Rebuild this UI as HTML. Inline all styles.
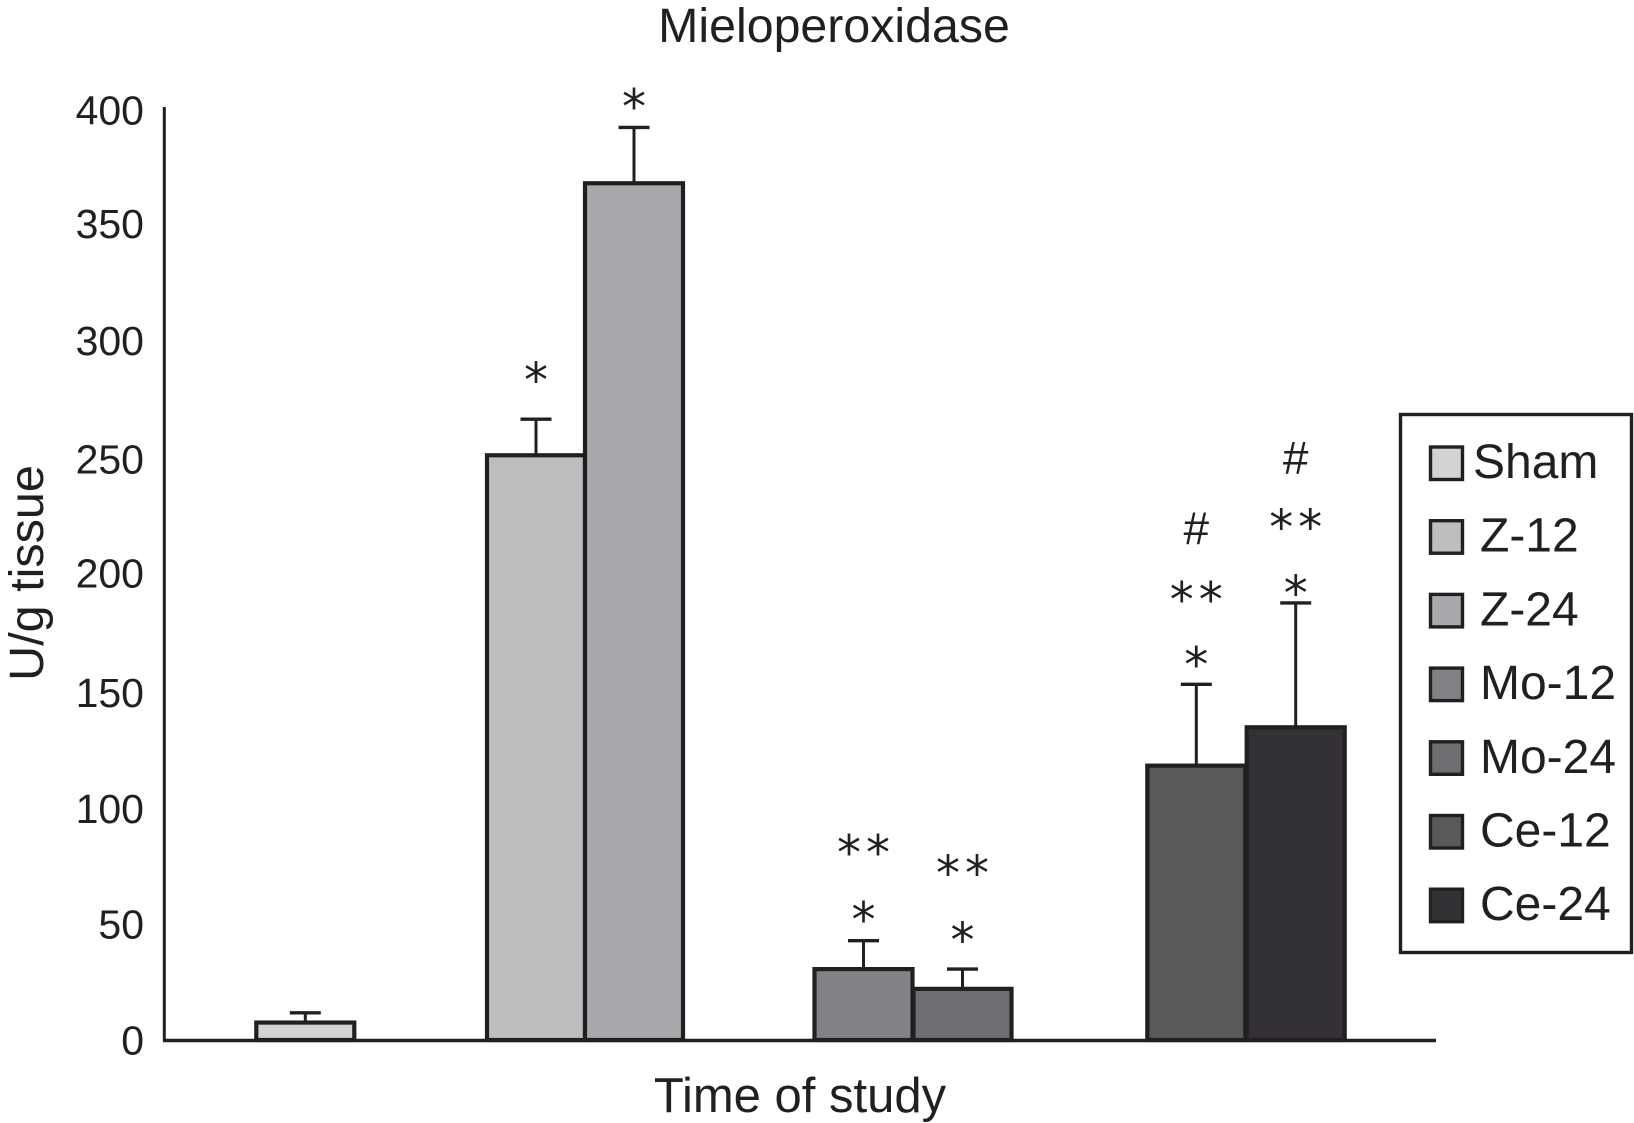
<!DOCTYPE html>
<html lang="en">
<head>
<meta charset="utf-8">
<title>Mieloperoxidase</title>
<style>
  html, body { margin: 0; padding: 0; background: #fff; }
  svg { display: block; }
  text { font-family: "Liberation Sans", Arial, sans-serif; fill: #231f20; }
  .mark { font-family: "DejaVu Sans", "Liberation Serif", serif; }
</style>
</head>
<body>
<svg id="chart" width="1634" height="1123" viewBox="0 0 1634 1123" xmlns="http://www.w3.org/2000/svg">
  <rect x="0" y="0" width="1634" height="1123" fill="#ffffff"/>
  <text x="834" y="42" font-size="48.3" text-anchor="middle">Mieloperoxidase</text>
  <text transform="translate(43,573) rotate(-90)" font-size="48.5" text-anchor="middle">U/g tissue</text>
  <text x="800" y="1112" font-size="49" text-anchor="middle">Time of study</text>
  <g id="ticks"></g>
  <g id="bars"></g>
  <g id="errors"></g>
  <g id="marks"></g>
  <line x1="164.3" y1="107" x2="164.3" y2="1041" stroke="#231f20" stroke-width="3"/>
  <line x1="163" y1="1040.5" x2="1436" y2="1040.5" stroke="#231f20" stroke-width="3.6"/>
  <g id="legend">
    <rect x="1400.5" y="414.5" width="231" height="538" fill="#ffffff" stroke="#231f20" stroke-width="3.4"/>
  </g>
</svg>
<script>
// Chart data
const tickLabels = [0, 50, 100, 150, 200, 250, 300, 350, 400];
const categories = ["Sham", "Z-12", "Z-24", "Mo-12", "Mo-24", "Ce-12", "Ce-24"];
const meanValues = [7.5, 251.5, 368.5, 30.5, 22, 118, 134.5];
const errorTopValues = [11.7, 267, 392.5, 42.7, 30.5, 153, 188];
const significanceMarks = [[], ["*"], ["*"], ["*", "**"], ["*", "**"], ["*", "**", "#"], ["*", "**", "#"]];

// Axis functions and layout
const SVG_NS = "http://www.w3.org/2000/svg";
const INK = "#231f20";
function yScale(value) { return 1040 - value * 2.325; }
function xScale(index) {
  const centres = [305.3, 536, 634, 863.5, 962.5, 1196.3, 1295.7];
  return centres[index];
}
const barWidth = 98;
const fills = ["#d1d3d4", "#bcbec0", "#a7a9ac", "#808285", "#6d6e71", "#58595b", "#333135"];
const markOffsets = [[], [47], [29], [29, 96], [37, 104], [28, 93, 156], [18, 84, 145]];
// The source figure's tick labels sit slightly off the regular grid.
const tickNudge = [0, 0, 1, 1, -2, 0, -2, -3, 0];

function make(tag, attrs, parent) {
  const el = document.createElementNS(SVG_NS, tag);
  for (const key in attrs) el.setAttribute(key, attrs[key]);
  parent.appendChild(el);
  return el;
}
function slug(text) { return text.toLowerCase(); }

const ticksGroup = document.getElementById("ticks");
tickLabels.forEach(function (tick, t) {
  const el = make("text", { x: 144, y: yScale(tick) + 14.5 + tickNudge[t], "font-size": 41, "text-anchor": "end" }, ticksGroup);
  
  
  el.textContent = String(tick);
});

const barsGroup = document.getElementById("bars");
const errorsGroup = document.getElementById("errors");
const marksGroup = document.getElementById("marks");

categories.forEach(function (name, i) {
  const cx = xScale(i);
  const top = yScale(meanValues[i]);
  const cap = yScale(errorTopValues[i]);

  const stem = make("line", { x1: cx, y1: top, x2: cx, y2: cap, stroke: INK, "stroke-width": 3 }, errorsGroup);
  
  

  const capLine = make("line", { x1: cx - 15.5, y1: cap, x2: cx + 15.5, y2: cap, stroke: INK, "stroke-width": 3.4 }, errorsGroup);
  
  

  const bar = make("rect", {
    x: cx - barWidth / 2, y: top, width: barWidth, height: yScale(0) - top,
    fill: fills[i], stroke: INK, "stroke-width": 4.2
  }, barsGroup);
  
  

  significanceMarks[i].forEach(function (symbol, k) {
    const markY = cap - markOffsets[i][k];
    const isHash = symbol === "#";
    const isDouble = symbol === "**";
    const el = make("text", {
      x: cx + (isDouble ? 2.5 : 0),
      y: markY + (isHash ? 16 : 25),
      "font-size": isHash ? 46 : 48,
      "text-anchor": "middle",
      "letter-spacing": isDouble ? 5 : 0,
      "class": isHash ? "" : "mark"
    }, marksGroup);
    
    
    el.textContent = symbol;
  });
});

const legendGroup = document.getElementById("legend");
categories.forEach(function (name, i) {
  const rowTop = 447 + i * 73.7;
  const swatch = make("rect", { x: 1430.5, y: rowTop, width: 32, height: 32.5, fill: fills[i], stroke: INK, "stroke-width": 3.4 }, legendGroup);
  
  

  const label = make("text", { x: i === 0 ? 1473 : 1480, y: rowTop + 31, "font-size": 48 }, legendGroup);
  
  
  label.textContent = name;
});
</script>
</body>
</html>
